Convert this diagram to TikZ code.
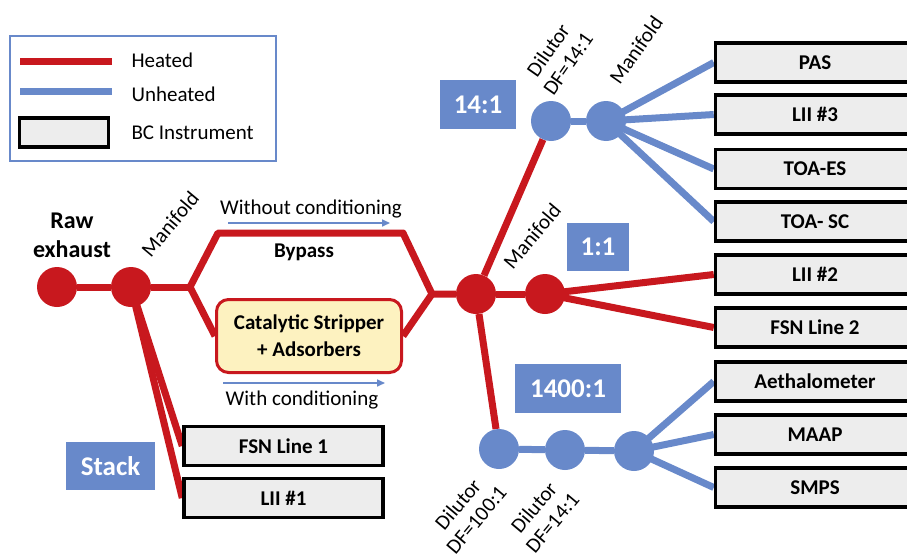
\documentclass[tikz,border=0pt]{standalone}
\usepackage{fontspec}
\setmainfont{Carlito}
\usetikzlibrary{arrows.meta,backgrounds}
\definecolor{hotred}{RGB}{200,24,30}
\definecolor{coldblue}{RGB}{104,137,202}
\definecolor{cream}{RGB}{253,242,192}
\tikzstyle{heated} = [draw=hotred, line width=7pt]
\tikzstyle{unheated} = [draw=coldblue, line width=7pt]
\tikzstyle{hotdot} = [circle, fill=hotred, minimum size=40pt, inner sep=0pt]
\tikzstyle{colddot} = [circle, fill=coldblue, minimum size=40pt, inner sep=0pt]
\tikzstyle{instr} = [draw, line width=3.5pt, fill=black!7, minimum width=199pt, minimum height=39pt, inner sep=0pt, font=\fontsize{21}{25}\selectfont\bfseries]
\tikzstyle{ratio} = [fill=coldblue, text=white, inner sep=0pt, font=\fontsize{27}{30}\selectfont\bfseries]
\tikzstyle{tag} = [font=\fontsize{21}{25}\selectfont, align=center]
\tikzstyle{flow} = [draw=coldblue, line width=1.6pt, -{Triangle[length=8pt,width=7pt]}]

\begin{document}
\begin{tikzpicture}[x=1pt, y=-1pt]
	\useasboundingbox (0,0) rectangle (907,554);
	\clip (0,0) rectangle (907,554);

	\draw[coldblue, line width=2.5pt](10, 36) rectangle (276, 161);
	\draw[heated](20, 61) -- (112, 61);
	\draw[unheated](20, 91) -- (112, 91);
	\node[instr, minimum width=89pt, minimum height=29pt](legbox) at (64, 132.5){};
	\node[tag, anchor=west](legheated) at (128, 60){Heated};
	\node[tag, anchor=west](legunheated) at (128, 94){Unheated};
	\node[tag, anchor=west](leginstr) at (128, 133){BC Instrument};

	\node[hotdot](raw) at (57, 287){};
	\node[hotdot](man1) at (131, 287){};
	\node[hotdot](junction) at (476, 294){};
	\node[hotdot](man2) at (545, 294){};
	\node[colddot](dil14) at (551, 121){};
	\node[colddot](man3) at (606, 121){};
	\node[colddot](dil100) at (499, 449){};
	\node[colddot](dil14b) at (565, 450){};
	\node[colddot](man4) at (634, 451){};
	\coordinate(split) at (190, 287);
	\coordinate(bpleft) at (218, 233);
	\coordinate(bpright) at (403, 233);
	\coordinate(merge) at (432, 294);

	\node[draw=hotred, line width=3pt, fill=cream, rounded corners=12pt, minimum width=185pt, minimum height=73pt, align=center, font=\fontsize{21}{27}\selectfont\bfseries](cs) at (309, 336){Catalytic Stripper\\+ Adsorbers};

	\node[instr](pas) at (815, 62.5){PAS};
	\node[instr](liithree) at (815, 114.5){LII \#3};
	\node[instr](toaes) at (815, 169){TOA-ES};
	\node[instr](toasc) at (815, 221.5){TOA- SC};
	\node[instr](liitwo) at (815, 274.5){LII \#2};
	\node[instr](fsntwo) at (815, 327.5){FSN Line 2};
	\node[instr](aeth) at (815, 381.5){Aethalometer};
	\node[instr](maap) at (815, 434.5){MAAP};
	\node[instr](smps) at (815, 487.5){SMPS};
	\node[instr](fsnone) at (283.5, 446){FSN Line 1};
	\node[instr](liione) at (283.5, 498){LII \#1};

	\node[ratio, minimum width=76pt, minimum height=49pt](rfourteen) at (478, 104.5){14:1};
	\node[ratio, minimum width=62pt, minimum height=48pt](rone) at (598, 247){1:1};
	\node[ratio, minimum width=106pt, minimum height=49pt](rfourteenhundred) at (568, 388.5){1400:1};
	\node[ratio, minimum width=89pt, minimum height=48pt](rstack) at (110.5, 466){Stack};

	\node[tag, font=\fontsize{24}{29}\selectfont\bfseries](rawtext) at (72, 235){Raw\\exhaust};
	\node[tag, font=\fontsize{21}{25}\selectfont\bfseries](bypass) at (304, 252){Bypass};
	\node[tag](without) at (311, 209){Without conditioning};
	\node[tag](with) at (302, 400){With conditioning};
	\node[tag, rotate=50](man1text) at (170, 224){Manifold};
	\node[tag, rotate=50](man2text) at (532, 236){Manifold};
	\node[tag, rotate=55](man3text) at (636, 50){Manifold};
	\node[tag, rotate=55, font=\fontsize{21}{24}\selectfont](dil14text) at (558, 57){Dilutor\\DF=14:1};
	\node[tag, rotate=50, font=\fontsize{21}{24}\selectfont](dil100text) at (467, 512){Dilutor\\DF=100:1};
	\node[tag, rotate=50, font=\fontsize{21}{24}\selectfont](dil14btext) at (543, 515){Dilutor\\DF=14:1};

	\coordinate(wostart) at (228, 223);
	\coordinate(woend) at (390, 223);
	\coordinate(wstart) at (223, 383);
	\coordinate(wend) at (385, 383);
	\draw[flow](wostart) -- (woend);
	\draw[flow](wstart) -- (wend);

	\begin{scope}[on background layer]
		\draw[heated](raw) -- (man1) -- (split);
		\draw[heated, line join=round](split) -- (bpleft) -- (bpright) -- (merge) -- (junction);
		\draw[heated](split) -- (cs.west);
		\draw[heated](cs.east) -- (merge);
		\draw[heated](junction) -- (man2);
		\draw[heated](junction) -- (dil14);
		\draw[heated](junction) -- (dil100);
		\draw[heated](man1.center) -- (fsnone.west);
		\draw[heated](man1.center) -- (liione.west);
		\draw[heated](man2.center) -- (liitwo.west);
		\draw[heated](man2.center) -- (fsntwo.west);
		\draw[unheated](dil14) -- (man3);
		\draw[unheated](man3.center) -- (pas.west);
		\draw[unheated](man3.center) -- (liithree.west);
		\draw[unheated](man3.center) -- (toaes.west);
		\draw[unheated](man3.center) -- (toasc.west);
		\draw[unheated](dil100) -- (dil14b) -- (man4);
		\draw[unheated](man4.center) -- (aeth.west);
		\draw[unheated](man4.center) -- (maap.west);
		\draw[unheated](man4.center) -- (smps.west);
	\end{scope}
\end{tikzpicture}
\end{document}
